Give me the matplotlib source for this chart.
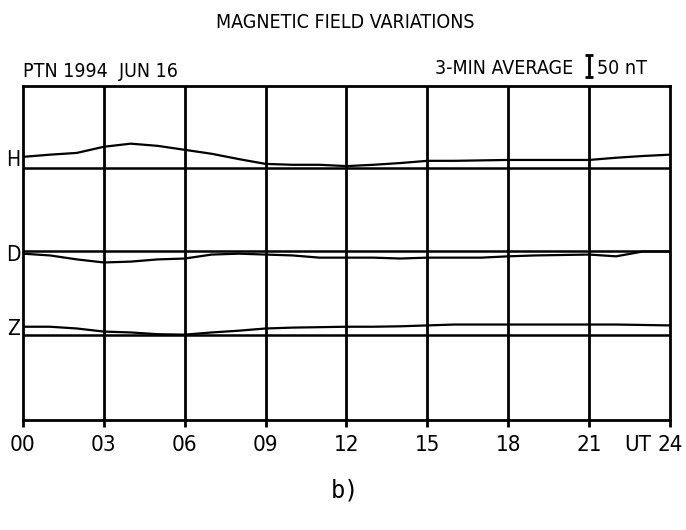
import matplotlib
matplotlib.use("Agg")
import matplotlib.pyplot as plt

plt.rcParams["font.family"] = ["DejaVu Sans"]
plt.rcParams["font.stretch"] = "condensed"

# UT hours and field variations (nT above each trace's baseline)
hours = list(range(25))
h_var = [25, 30, 34, 48, 55, 50, 41, 32, 20, 9, 7, 7, 4, 7, 11, 16, 16, 17, 18, 18, 18, 18, 23, 27, 30]
d_var = [-5, -9, -18, -25, -23, -18, -16, -7, -5, -7, -9, -14, -14, -14, -16, -14, -14, -14, -11, -9, -8, -7, -11, 0, 0]
z_var = [19, 19, 15, 8, 6, 2, 1, 6, 10, 15, 17, 18, 19, 19, 20, 22, 24, 24, 24, 24, 24, 24, 24, 23, 22]

components = ["H", "D", "Z"]
offsets = [0, -190, -380]
label_shift = [18, -9, 14]
tick_hours = [0, 3, 6, 9, 12, 15, 18, 21, 24]
tick_labels = ["00", "03", "06", "09", "12", "15", "18", "21", "24"]

fig = plt.figure(figsize=(6.86, 5.3), dpi=100)
ax = fig.add_axes([0.0335, 0.2075, 0.9432, 0.6302])

for name, off, sh, vals in zip(components, offsets, label_shift, [h_var, d_var, z_var]):
    ax.axhline(off, color="black", lw=1.8)
    ax.plot(hours, [v + off for v in vals], color="black", lw=1.6)
    ax.text(-0.1, off + sh, name, ha="right", va="center", fontsize=15)

for t in tick_hours[1:-1]:
    ax.axvline(t, color="black", lw=2)

ax.set_xlim(0, 24)
ax.set_ylim(-573, 186)
ax.set_yticks([])
ax.set_xticks(tick_hours)
ax.set_xticklabels(tick_labels, fontsize=16)
ax.tick_params(axis="x", direction="out", length=5, width=2, pad=6)
for s in ax.spines.values():
    s.set_linewidth(2)

# "UT" sits next to the last tick label
ax.annotate("UT", xy=(23.3, 0), xycoords=("data", "axes fraction"),
            xytext=(0, -11), textcoords="offset points",
            ha="right", va="top", fontsize=16)

# 50 nT scale bar
ax.errorbar([21], [231], yerr=25, color="black", lw=2, capsize=3,
            capthick=2, clip_on=False)
ax.text(21.3, 226, "50 nT", ha="left", va="center", fontsize=14)
ax.text(20.4, 226, "3-MIN AVERAGE", ha="right", va="center", fontsize=14)
ax.text(0, 220, "PTN 1994  JUN 16", ha="left", va="center", fontsize=14)

fig.text(0.503, 0.958, "MAGNETIC FIELD VARIATIONS", ha="center", va="center", fontsize=14)
fig.text(0.503, 0.075, "b)", ha="center", va="center", fontsize=17,
         family="DejaVu Sans Mono", stretch="normal")

fig.savefig("out.png", dpi=100)
